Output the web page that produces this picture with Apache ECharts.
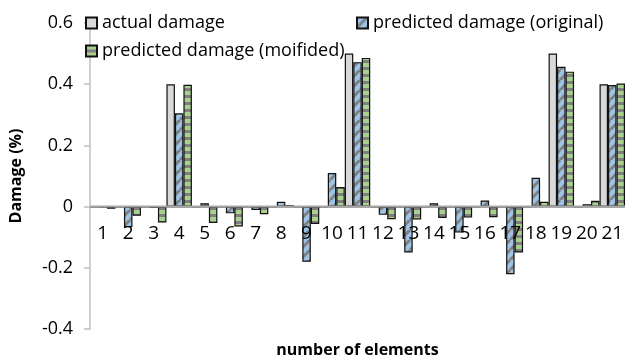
<!DOCTYPE html>
<html><head><meta charset="utf-8">
<script src="https://cdn.jsdelivr.net/npm/echarts@6/dist/echarts.min.js"></script>
<style>html,body{margin:0;padding:0;background:#fff}#c{width:626px;height:360px}</style>
</head><body><div id="c"></div>
<script>
const categories = ['1','2','3','4','5','6','7','8','9','10','11','12','13','14','15','16','17','18','19','20','21'];
const actualDamage = [0,0,0,0.4,0,0,0,0,0,0,0.5,0,0,0,0,0,0,0,0.5,0,0.4];
const predictedOriginal = [-0.002,-0.067,-0.004,0.305,0.011,-0.022,-0.011,0.016,-0.18,0.11,0.472,-0.027,-0.15,0.011,-0.085,0.02,-0.221,0.094,0.457,0.008,0.397];
const predictedModified = [-0.007,-0.03,-0.052,0.398,-0.054,-0.065,-0.025,0.005,-0.057,0.064,0.486,-0.041,-0.042,-0.037,-0.036,-0.035,-0.15,0.016,0.441,0.019,0.402];
const yTicks = [-0.4,-0.2,0,0.2,0.4,0.6];

function diagPattern(bg, fg){
  const s = 10, c = document.createElement('canvas'); c.width = s; c.height = s;
  const x = c.getContext('2d'); x.fillStyle = bg; x.fillRect(0,0,s,s);
  x.strokeStyle = fg; x.lineWidth = 3;
  [-s,0,s].forEach(dx=>{ x.beginPath(); x.moveTo(dx, s); x.lineTo(dx + s, 0); x.stroke(); });
  return c;
}
function horizPattern(bg, fg){
  const c = document.createElement('canvas'); c.width = 7; c.height = 7;
  const x = c.getContext('2d'); x.fillStyle = bg; x.fillRect(0,0,7,7);
  x.fillStyle = fg; x.fillRect(0,4,7,3);
  return c;
}
const FONT = 'Open Sans';
const W = 626, H = 360;
const GRID_LEFT = 90, GRID_RIGHT = 1, GRID_TOP = 23, GRID_BOTTOM = 31;
const plotH = H - GRID_TOP - GRID_BOTTOM;
const zeroFromBottom = plotH * (0 - yTicks[0]) / (yTicks[yTicks.length-1] - yTicks[0]);
const ZERO_COLOR = '#a6a6a6';
const splitColors = yTicks.map(v => v === 0 ? ZERO_COLOR : 'rgba(255,255,255,0)');
const chart = echarts.init(document.getElementById('c'), null, {renderer:'canvas'});
const border = {borderColor:'#111', borderWidth:1.2};
chart.setOption({
  animation:false,
  textStyle:{fontFamily:FONT, color:'#000'},
  grid:{left:GRID_LEFT, right:GRID_RIGHT, top:GRID_TOP, bottom:GRID_BOTTOM, containLabel:false, outerBoundsMode:'none'},
  legend:[
    {data:['actual damage'], left:80, top:9, icon:'rect', itemWidth:11, itemHeight:11, textStyle:{fontSize:18, fontFamily:FONT, color:'#000'}},
    {data:['predicted damage (original)'], left:351, top:9, icon:'rect', itemWidth:11, itemHeight:11, textStyle:{fontSize:18, fontFamily:FONT, color:'#000'}},
    {data:['predicted damage (moifided)'], left:80, top:37, icon:'rect', itemWidth:11, itemHeight:11, textStyle:{fontSize:18, fontFamily:FONT, color:'#000'}}
  ],
  xAxis:{
    type:'category', data:categories, position:'bottom', z:10,
    name:'number of elements', nameLocation:'middle', nameGap:13,
    nameTextStyle:{fontSize:16, fontWeight:'bold', fontFamily:FONT, color:'#000'},
    axisLine:{show:false, onZero:false},
    axisTick:{show:false},
    splitLine:{show:false},
    axisLabel:{fontSize:19, margin:17 - zeroFromBottom, color:'#000', fontFamily:FONT, interval:0}
  },
  yAxis:{
    type:'value', min:yTicks[0], max:yTicks[yTicks.length-1], interval:0.2,
    name:'Damage (%)', nameLocation:'middle', nameGap:66, nameRotate:90,
    nameTextStyle:{fontSize:16, fontWeight:'bold', fontFamily:FONT, color:'#000'},
    axisLine:{show:true, lineStyle:{color:'#bfbfbf', width:1.5}},
    axisTick:{show:true, length:6, lineStyle:{color:'#bfbfbf', width:1.5}},
    splitLine:{show:true, lineStyle:{color:splitColors, width:2}},
    axisLabel:{fontSize:18, margin:17, color:'#000', fontFamily:FONT,
      formatter:v=>{ const r = Math.round(v*10)/10; return r===0?'0':String(r); }}
  },
  series:[
    {name:'actual damage', type:'bar', data:actualDamage, barGap:'0%', barCategoryGap:'0%', z:3,
     itemStyle:Object.assign({color:'#d9d9d9'}, border)},
    {name:'predicted damage (original)', type:'bar', data:predictedOriginal, barGap:'0%', barCategoryGap:'0%', z:3,
     itemStyle:Object.assign({color:{image:diagPattern('#9dc3e6','#808080'), repeat:'repeat'}}, border)},
    {name:'predicted damage (moifided)', type:'bar', data:predictedModified, barGap:'0%', barCategoryGap:'0%', z:3,
     itemStyle:Object.assign({color:{image:horizPattern('#a9d18e','#7f7f7f'), repeat:'repeat'}}, border)}
  ]
});
const y0 = chart.convertToPixel({yAxisIndex:0}, 0);
if (isFinite(y0)) {
  chart.setOption({graphic:[{type:'line', z:100, silent:true,
    shape:{x1:GRID_LEFT, y1:y0, x2:W - GRID_RIGHT, y2:y0},
    style:{stroke:ZERO_COLOR, lineWidth:2}}]});
}
</script></body></html>
